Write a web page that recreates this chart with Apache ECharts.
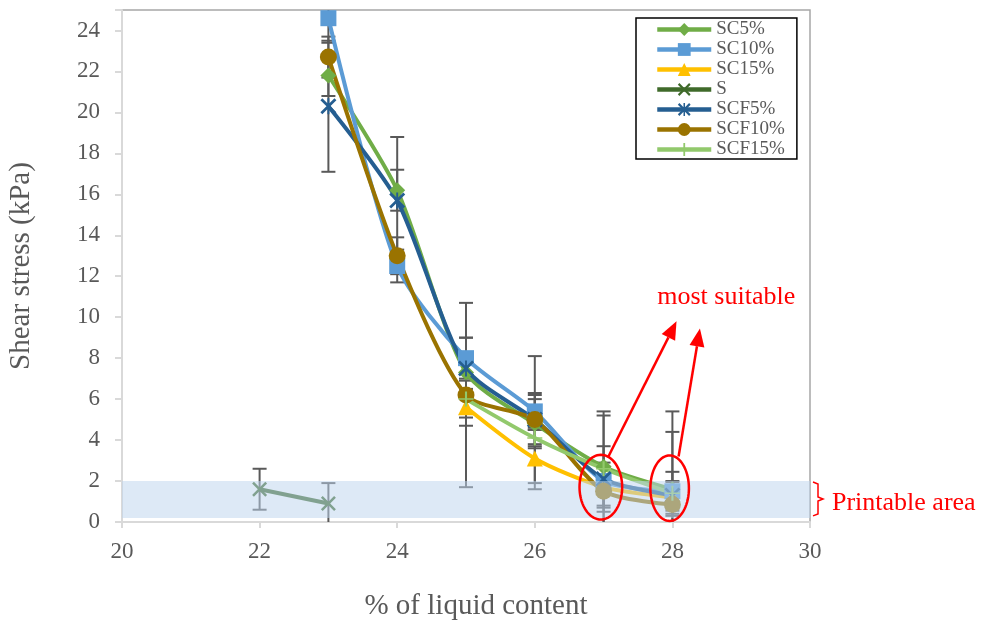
<!DOCTYPE html>
<html>
<head>
<meta charset="utf-8">
<script src="https://cdn.jsdelivr.net/npm/echarts@6/dist/echarts.min.js"></script>
<style>html,body{margin:0;padding:0;background:#fff}#main{width:982px;height:622px}</style>
</head>
<body>
<div id="main"></div>
<script>
// ---- data ----
const xValues = [22, 23, 24, 25, 26, 27, 28];
const seriesNames = ['SC5%', 'SC10%', 'SC15%', 'S', 'SCF5%', 'SCF10%', 'SCF15%'];
const sc5   = [null, 21.8, 16.2, 7.3, 4.8, 2.7, 1.6];
const sc10  = [null, 24.6, 12.5, 8.0, 5.4, 2.0, 1.5];
const sc15  = [null, null, null, 5.6, 3.1, 1.7, 1.2];
const sVals = [1.6, 0.9, null, null, null, null, null];
const scf5  = [null, 20.3, 15.7, 7.5, 5.0, 2.1, 1.3];
const scf10 = [null, 22.7, 13.0, 6.2, 5.0, 1.5, 0.85];
const scf15 = [null, null, null, 6.0, 4.1, 2.6, 1.4];
const sc5Err   = [null, 1.0, 1.0, 1.0, 1.2, 2.7, 2.8];
const sc10Err  = [null, 1.2, 0.8, 1.0, 0.9, 3.2, 0.95];
const sc15Err  = [null, null, null, 0.9, 1.5, 1.0, 0.8];
const sErr     = [1.0, 1.0, null, null, null, null, null];
const scf5Err  = [null, 3.2, 3.1, 1.5, 1.2, 1.6, 0.65];
const scf10Err = [null, 1.0, 0.9, 4.5, 3.1, 0.7, 0.55];
const scf15Err = [null, null, null, 0.9, 0.4, 0.3, 4.0];
const yTicks = [0, 2, 4, 6, 8, 10, 12, 14, 16, 18, 20, 22, 24];
const printableBand = [0.2, 2.0];
const annotationText = ['most suitable', 'Printable area'];

const values = [sc5, sc10, sc15, sVals, scf5, scf10, scf15];
const errors = [sc5Err, sc10Err, sc15Err, sErr, scf5Err, scf10Err, scf15Err];
const colors = ['#70ad47', '#5b9bd5', '#ffc000', '#3f6a2a', '#255e91', '#9a7300', '#92c96c'];
const xPath = 'path://M0,1.2L1.2,0L5,3.8L8.8,0L10,1.2L6.2,5L10,8.8L8.8,10L5,6.2L1.2,10L0,8.8L3.8,5Z';
const starPath = 'path://M0,1.2L1.2,0L5,3.8L8.8,0L10,1.2L6.2,5L10,8.8L8.8,10L5,6.2L1.2,10L0,8.8L3.8,5ZM4.4,0L5.6,0L5.6,10L4.4,10Z';
const plusPath = 'path://M4.3,0L5.7,0L5.7,4.5L10,4.5L10,5.5L5.7,5.5L5.7,10L4.3,10L4.3,5.5L0,5.5L0,4.5L4.3,4.5Z';
const symbols = ['diamond', 'rect', 'triangle', xPath, starPath, 'circle', plusPath];
const symbolSizes = [16, 16, 16, 15, 16, 17, 15];

const FONT = 'Liberation Serif';
const chart = echarts.init(document.getElementById('main'));

const lineSeries = seriesNames.map((name, i) => ({
  name: name,
  type: 'line',
  smooth: 0.25,
  z: 3,
  symbol: symbols[i],
  symbolSize: symbolSizes[i],
  showAllSymbol: true,
  color: colors[i],
  lineStyle: { width: 4, color: colors[i] },
  itemStyle: { color: colors[i] },
  data: xValues.map((x, j) => values[i][j] == null ? null : [x, values[i][j]]).filter(d => d)
}));

const errData = [];
values.forEach((arr, i) => arr.forEach((v, j) => {
  if (v != null && errors[i][j] != null) errData.push([xValues[j], Math.max(0, v - errors[i][j]), Math.min(25, v + errors[i][j])]);
}));

const errSeries = {
  type: 'custom',
  name: 'err',
  z: 2,
  data: errData,
  renderItem: function (params, api) {
    const x = api.value(0);
    const lo = api.coord([x, api.value(1)]);
    const hi = api.coord([x, api.value(2)]);
    const st = { stroke: '#595959', lineWidth: 2 };
    const w = 7;
    const children = [{ type: 'line', shape: { x1: lo[0], y1: lo[1], x2: hi[0], y2: hi[1] }, style: st }];
    if (api.value(2) < 25) children.push({ type: 'line', shape: { x1: hi[0] - w, y1: hi[1], x2: hi[0] + w, y2: hi[1] }, style: st });
    if (api.value(1) > 0) children.push({ type: 'line', shape: { x1: lo[0] - w, y1: lo[1], x2: lo[0] + w, y2: lo[1] }, style: st });
    return { type: 'group', children: children };
  }
};

const bandSeries = {
  type: 'custom',
  name: 'band',
  z: 20,
  silent: true,
  data: [[20, 30, printableBand[0], printableBand[1]]],
  renderItem: function (params, api) {
    const a = api.coord([api.value(0), api.value(3)]);
    const b = api.coord([api.value(1), api.value(2)]);
    return { type: 'rect', shape: { x: a[0], y: a[1], width: b[0] - a[0], height: b[1] - a[1] }, style: { fill: 'rgba(190,213,237,0.52)' } };
  }
};

chart.setOption({
  animation: false,
  backgroundColor: '#fff',
  grid: { left: 122, right: 172, top: 10, bottom: 100, show: true, borderColor: '#a6a6a6', borderWidth: 1.5, outerBoundsMode: 'none', containLabel: false },
  legend: {
    orient: 'vertical', left: 636, top: 18,
    itemWidth: 54, itemHeight: 16, itemGap: 1,
    padding: [2, 12, 0, 19],
    borderColor: '#000', borderWidth: 1.5,
    lineStyle: { width: 4.5 },
    textStyle: { fontFamily: FONT, fontSize: 19, color: '#595959' },
    data: seriesNames
  },
  xAxis: {
    type: 'value', min: 20, max: 30, interval: 2,
    name: '% of liquid content', nameLocation: 'middle', nameGap: 70,
    nameTextStyle: { fontFamily: FONT, fontSize: 29, color: '#595959', padding: [0, 0, 0, 20] },
    axisLine: { show: true, lineStyle: { color: '#d9d9d9', width: 2 } },
    axisTick: { show: true, length: 6, lineStyle: { color: '#d9d9d9', width: 2 } },
    splitLine: { show: false },
    axisLabel: { fontFamily: FONT, fontSize: 23, color: '#595959', margin: 18 }
  },
  yAxis: {
    type: 'value', min: 0, max: 25, interval: 2,
    name: 'Shear stress (kPa)', nameLocation: 'middle', nameGap: 86, nameRotate: 90,
    nameTextStyle: { fontFamily: FONT, fontSize: 29, color: '#595959' },
    axisLine: { show: true, lineStyle: { color: '#d9d9d9', width: 2 } },
    axisTick: { show: true, length: 7, lineStyle: { color: '#d9d9d9', width: 2 } },
    splitLine: { show: false },
    axisLabel: { fontFamily: FONT, fontSize: 23, color: '#595959', margin: 22,
      formatter: v => yTicks.indexOf(v) >= 0 ? String(v) : '' }
  },
  series: [errSeries].concat(lineSeries, [bandSeries])
});

// ---- annotations positioned from data coordinates ----
function px(x, y) { return chart.convertToPixel({ gridIndex: 0 }, [x, y]); }
function ellipse(cx, cy, rxD, ryD) {
  const c = px(cx, cy);
  const e = px(cx + rxD, cy + ryD);
  const rx = Math.abs(e[0] - c[0]), ry = Math.abs(e[1] - c[1]);
  const pts = [];
  for (let k = 0; k < 72; k++) { const t = k / 72 * Math.PI * 2; pts.push([c[0] + rx * Math.cos(t), c[1] + ry * Math.sin(t)]); }
  return { type: 'polygon', z: 100, shape: { points: pts }, style: { fill: 'none', stroke: '#ff0000', lineWidth: 2.5 } };
}
function arrow(x1, y1, x2, y2) {
  const a = px(x1, y1), b = px(x2, y2);
  const dx = b[0] - a[0], dy = b[1] - a[1], L = Math.hypot(dx, dy);
  const ux = dx / L, uy = dy / L, hl = 18, hw = 7.5;
  const base = [b[0] - ux * hl, b[1] - uy * hl];
  return [
    { type: 'line', z: 100, shape: { x1: a[0], y1: a[1], x2: base[0], y2: base[1] }, style: { stroke: '#ff0000', lineWidth: 2.5 } },
    { type: 'polygon', z: 100, shape: { points: [b, [base[0] - uy * hw, base[1] + ux * hw], [base[0] + uy * hw, base[1] - ux * hw]] }, style: { fill: '#ff0000' } }
  ];
}
const br0 = px(30, printableBand[1]), br1 = px(30, printableBand[0]);
const bx = br0[0] + 3, by0 = br0[1] + 1, by1 = br1[1] - 2, bm = (by0 + by1) / 2;
const textMS = px(27.78, 11.0);
const textPA = px(30, (printableBand[0] + printableBand[1]) / 2);
chart.setOption({
  graphic: [].concat(
    [ellipse(26.96, 1.7, 0.31, 1.58), ellipse(27.96, 1.65, 0.28, 1.6)],
    arrow(27.07, 3.2, 28.06, 9.8),
    arrow(28.09, 3.2, 28.4, 9.45),
    [{ type: 'polyline', z: 100, shape: { points: [[bx, by0], [bx + 5, by0 + 2], [bx + 5, bm - 2], [bx + 10, bm], [bx + 5, bm + 2], [bx + 5, by1 - 2], [bx, by1]] }, style: { stroke: '#ff0000', lineWidth: 1.5, fill: 'none' } },
     { type: 'text', z: 100, x: textMS[0], y: textMS[1], style: { text: annotationText[0], fill: '#ff0000', font: '26px "Liberation Serif"', textVerticalAlign: 'middle', textAlign: 'left' } },
     { type: 'text', z: 100, x: textPA[0] + 22, y: textPA[1] + 4, style: { text: annotationText[1], fill: '#ff0000', font: '26px "Liberation Serif"', textVerticalAlign: 'middle', textAlign: 'left' } }]
  )
});
</script>
</body>
</html>
